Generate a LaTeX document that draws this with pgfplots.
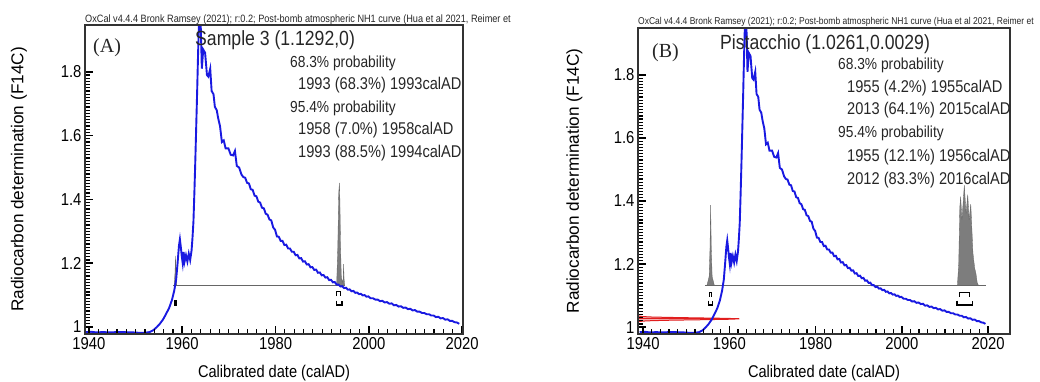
\documentclass[border=0pt]{standalone}
\usepackage{pgfplots}
\pgfplotsset{compat=1.18}
\usepackage{pgfplotstable}
\usepackage{fontspec}
\setmainfont{Liberation Sans}
\newfontfamily\nsans[FakeStretch=0.86]{Liberation Sans}
\newfontfamily\tserif{Liberation Serif}
\definecolor{curveblue}{RGB}{25,25,225}
\definecolor{bandred}{RGB}{225,30,30}
\definecolor{distgray}{RGB}{125,125,125}

\pgfplotstableread{
x y
1939.2 0.984
1940.5 0.985
1941.5 0.983
1943.0 0.984
1944.5 0.983
1946.0 0.984
1947.5 0.984
1948.5 0.983
1949.5 0.983
1950.5 0.982
1952.0 0.982
1953.0 0.984
1953.8 0.990
1954.5 0.999
1955.2 1.010
1955.9 1.024
1956.5 1.040
1957.2 1.060
1957.8 1.085
1958.3 1.115
1958.7 1.150
1959.0 1.200
1959.3 1.255
1959.5 1.275
1959.7 1.250
1959.9 1.222
1960.1 1.200
1960.3 1.235
1960.5 1.205
1960.8 1.225
1961.1 1.205
1961.4 1.230
1961.7 1.210
1962.0 1.240
1962.2 1.280
1962.4 1.330
1962.6 1.420
1962.8 1.520
1963.0 1.630
1963.2 1.740
1963.4 1.860
1963.6 1.960
1963.8 1.990
1964.0 1.930
1964.2 1.810
1964.5 1.870
1964.9 1.860
1965.3 1.790
1965.6 1.785
1966.0 1.810
1966.3 1.740
1966.7 1.730
1967.0 1.690
1967.4 1.680
1967.7 1.655
1968.1 1.630
1968.5 1.580
1968.9 1.585
1969.3 1.560
1969.9 1.560
1970.4 1.540
1970.9 1.538
1971.3 1.552
1971.7 1.505
1972.2 1.500
1972.7 1.478
1973.1 1.470
1973.5 1.468
1973.9 1.452
1974.3 1.450
1974.7 1.432
1975.1 1.430
1975.5 1.412
1975.9 1.410
1976.3 1.393
1976.7 1.390
1977.1 1.374
1977.5 1.372
1977.9 1.355
1978.3 1.352
1978.7 1.337
1979.1 1.334
1979.5 1.312
1979.9 1.305
1980.3 1.284
1980.7 1.283
1981.1 1.270
1981.5 1.270
1981.9 1.257
1982.3 1.258
1982.7 1.246
1983.1 1.246
1983.5 1.236
1983.9 1.236
1984.3 1.225
1984.7 1.226
1985.1 1.215
1985.5 1.216
1985.9 1.205
1986.3 1.206
1986.7 1.196
1987.1 1.197
1987.5 1.187
1987.9 1.188
1988.3 1.179
1988.7 1.180
1989.1 1.170
1989.5 1.171
1989.9 1.162
1990.3 1.163
1990.7 1.155
1991.1 1.156
1991.5 1.147
1991.9 1.148
1992.3 1.140
1992.7 1.141
1993.1 1.133
1993.5 1.133
1993.9 1.127
1994.3 1.128
1994.7 1.122
1995.1 1.123
1995.5 1.117
1995.9 1.118
1996.3 1.112
1996.7 1.113
1997.1 1.107
1997.5 1.108
1997.9 1.103
1998.3 1.104
1998.7 1.099
1999.1 1.100
1999.5 1.095
1999.9 1.096
2000.4 1.090
2000.9 1.090
2001.4 1.086
2001.9 1.086
2002.4 1.081
2002.9 1.082
2003.4 1.077
2003.9 1.078
2004.4 1.073
2004.9 1.074
2005.4 1.068
2005.9 1.069
2006.4 1.064
2006.9 1.065
2007.4 1.060
2007.9 1.061
2008.4 1.056
2008.9 1.057
2009.4 1.052
2009.9 1.053
2010.4 1.048
2010.9 1.048
2011.4 1.044
2011.9 1.044
2012.4 1.040
2012.9 1.040
2013.4 1.036
2013.9 1.036
2014.4 1.031
2014.9 1.032
2015.4 1.027
2015.9 1.028
2016.4 1.023
2016.9 1.024
2017.4 1.019
2017.9 1.019
2018.4 1.015
2018.9 1.014
2019.4 1.010
}\curvedata

\pgfplotsset{
  oxcal/.style={
    scale only axis, anchor=north west,
    axis on top,
    tick pos=left, tick align=inside,
    major tick length=8pt, minor tick length=5pt,
    xtick={1940,1960,1980,2000,2020},
    ytick={1,1.2,1.4,1.6,1.8},
    minor x tick num=9,
    minor y tick num=19,
    axis line style={line width=1.3pt, black!80},
    every tick/.append style={draw=black, line width=1.6pt},
    every minor tick/.append style={draw=black, line width=1.2pt},
    ticklabel style={font=\nsans\fontsize{17.25}{20}\selectfont},
    /pgf/number format/assume math mode=true,
    /pgf/number format/1000 sep={},
    xlabel={Calibrated date (calAD)},
    ylabel={Radiocarbon determination (F14C)},
    xlabel style={font=\nsans\fontsize{17}{20}\selectfont, anchor=center},
    ylabel style={font=\fontsize{17.2}{20}\selectfont, anchor=center},
  }
}

\begin{document}
\begin{tikzpicture}
\useasboundingbox (0,0) rectangle (1040pt,-382pt);

% ---------------- Panel A ----------------
\begin{axis}[oxcal, at={(85pt,-25pt)}, width=378pt, height=309pt,
  xmin=1939.15, xmax=2020.2, ymin=0.978, ymax=1.947,
  xlabel style={at={(axis description cs:0.5,-0.126)}},
  ylabel style={at={(axis description cs:-0.175,0.5)}}]
\addplot[fill=distgray, draw=distgray!80!black, line width=0.3pt] coordinates {(1958.25,1.1292)(1958.45,1.17)(1958.55,1.223)(1958.65,1.17)(1958.85,1.1292)} -- cycle;
\addplot[fill=distgray, draw=distgray!80!black, line width=0.3pt] coordinates {(1993.1,1.1292)(1993.35,1.25)(1993.55,1.42)(1993.7,1.452)(1993.8,1.40)(1993.95,1.25)(1994.1,1.16)(1994.3,1.14)(1994.5,1.15)(1994.6,1.197)(1994.7,1.15)(1994.85,1.1292)} -- cycle;
\addplot[black!60, line width=0.6pt] coordinates {(1958.1,1.1292)(1994.85,1.1292)};
% ranges
\addplot[black, line width=1.1pt] coordinates {(1993.15,1.097)(1993.15,1.110)(1993.9,1.110)(1993.9,1.097)};
\addplot[black, line width=1.1pt] coordinates {(1958.45,1.084)(1958.45,1.069)(1958.75,1.069)(1958.75,1.084)};
\addplot[black, line width=1.1pt] coordinates {(1993.15,1.083)(1993.15,1.069)(1994.25,1.069)(1994.25,1.083)};
\addplot[curveblue, line width=1.9pt] table {\curvedata};
\end{axis}

% ---------------- Panel B ----------------
\begin{axis}[oxcal, at={(638pt,-28pt)}, width=372pt, height=306pt,
  xmin=1938.8, xmax=2025.1, ymin=0.978, ymax=1.949,
  xlabel style={at={(axis description cs:0.5,-0.127)}},
  ylabel style={at={(axis description cs:-0.171,0.5)}}]
\addplot[fill=distgray, draw=distgray!80!black, line width=0.3pt] coordinates {(1954.8,1.133)(1955.3,1.16)(1955.5,1.25)(1955.65,1.387)(1955.8,1.25)(1956.0,1.16)(1956.5,1.133)} -- cycle;
\addplot[fill=distgray, draw=distgray!80!black, line width=0.3pt] coordinates {(2012.9,1.133)(2013.2,1.20)(2013.45,1.38)(2013.65,1.414)(2013.95,1.34)(2014.5,1.45)(2014.9,1.36)(2015.3,1.42)(2015.6,1.34)(2016.0,1.39)(2016.5,1.235)(2016.9,1.187)(2017.2,1.17)(2017.5,1.14)(2017.75,1.133)} -- cycle;
\addplot[black!60, line width=0.6pt] coordinates {(1954.35,1.133)(2019.5,1.133)};
% ranges
\addplot[black, line width=1.1pt] coordinates {(1955.35,1.097)(1955.35,1.110)(1955.75,1.110)(1955.75,1.097)};
\addplot[black, line width=1.1pt] coordinates {(2013.3,1.097)(2013.3,1.110)(2015.6,1.110)(2015.6,1.097)};
\addplot[black, line width=1.1pt] coordinates {(1955.2,1.084)(1955.2,1.070)(1956.0,1.070)(1956.0,1.084)};
\addplot[black, line width=1.1pt] coordinates {(2012.8,1.084)(2012.8,1.070)(2016.3,1.070)(2016.3,1.084)};
% measurement
\addplot[fill=bandred!35, draw=bandred, line width=1pt] coordinates {(1938.8,1.0145)(1938.85,1.0160)(1939.06,1.0174)(1939.83,1.0189)(1941.97,1.0203)(1946.4,1.0218)(1953.06,1.0232)(1959.54,1.0247)(1962.3,1.0261)(1959.54,1.0276)(1953.06,1.0290)(1946.4,1.0305)(1941.97,1.0319)(1939.83,1.0334)(1939.06,1.0348)(1938.85,1.0362)(1938.8,1.0377)} -- cycle;
\addplot[bandred, line width=1pt] coordinates {(1938.8,1.0261)(1962.3,1.0261)};
\addplot[curveblue, line width=1.9pt] table {\curvedata};
\end{axis}

% ---------------- Texts ----------------
\tikzset{t/.style={anchor=west, inner sep=0pt, text=black!85}}
\node[t, font=\nsans\fontsize{10.65}{12}\selectfont] at (85pt,-19.5pt) {OxCal v4.4.4 Bronk Ramsey (2021); r:0.2; Post-bomb atmospheric NH1 curve (Hua et al 2021, Reimer et};
\node[t, font=\nsans\fontsize{9.9}{12}\selectfont] at (638pt,-22pt) {OxCal v4.4.4 Bronk Ramsey (2021); r:0.2; Post-bomb atmospheric NH1 curve (Hua et al 2021, Reimer et};

\node[t, font=\tserif\fontsize{20}{24}\selectfont] at (93pt,-48pt) {(A)};
\node[t, font=\nsans\fontsize{20.5}{24}\selectfont] at (195pt,-40pt) {Sample 3 (1.1292,0)};
\node[t, font=\nsans\fontsize{16}{19}\selectfont] at (290pt,-63pt) {68.3\% probability};
\node[t, font=\nsans\fontsize{17}{19}\selectfont] at (298pt,-85pt) {1993 (68.3\%) 1993calAD};
\node[t, font=\nsans\fontsize{16}{19}\selectfont] at (290pt,-108pt) {95.4\% probability};
\node[t, font=\nsans\fontsize{17}{19}\selectfont] at (298pt,-130pt) {1958 (7.0\%) 1958calAD};
\node[t, font=\nsans\fontsize{17}{19}\selectfont] at (298pt,-153pt) {1993 (88.5\%) 1994calAD};

\node[t, font=\tserif\fontsize{20}{24}\selectfont] at (652pt,-53pt) {(B)};
\node[t, font=\nsans\fontsize{20.5}{24}\selectfont] at (720pt,-44pt) {Pistacchio (1.0261,0.0029)};
\node[t, font=\nsans\fontsize{16}{19}\selectfont] at (838pt,-65pt) {68.3\% probability};
\node[t, font=\nsans\fontsize{17}{19}\selectfont] at (847pt,-88pt) {1955 (4.2\%) 1955calAD};
\node[t, font=\nsans\fontsize{17}{19}\selectfont] at (847pt,-110pt) {2013 (64.1\%) 2015calAD};
\node[t, font=\nsans\fontsize{16}{19}\selectfont] at (838pt,-133pt) {95.4\% probability};
\node[t, font=\nsans\fontsize{17}{19}\selectfont] at (847pt,-157pt) {1955 (12.1\%) 1956calAD};
\node[t, font=\nsans\fontsize{17}{19}\selectfont] at (847pt,-180pt) {2012 (83.3\%) 2016calAD};
\end{tikzpicture}
\end{document}
